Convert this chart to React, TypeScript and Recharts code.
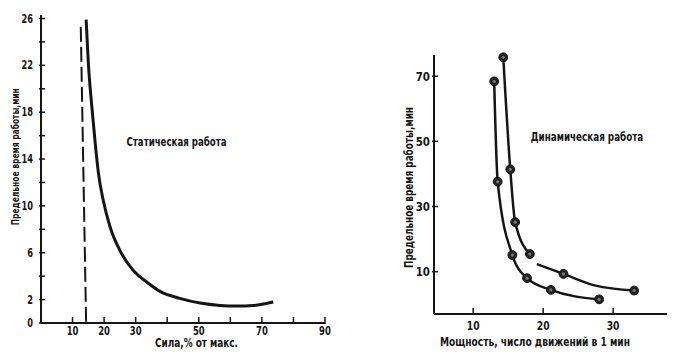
import React from 'react';
import { ComposedChart, Line, XAxis, YAxis, ReferenceLine } from 'recharts';

// ---- Static work (left chart) ----
const staticForce = [14.3, 15.0, 16.1, 17.1, 18.2, 19.7, 21.9, 25.0, 29.2, 33.5, 37.7, 44.0, 50.4, 56.7, 62.0, 67.3, 73.6];
const staticTime = [25.9, 22.2, 18.5, 15.6, 12.8, 10.5, 8.2, 6.2, 4.5, 3.5, 2.7, 2.1, 1.7, 1.5, 1.45, 1.5, 1.8];
const staticXTicks = [10, 20, 30, 40, 50, 60, 70, 80, 90];
const staticXLabels = [10, 20, 30, 50, 70, 90];
const staticYTicks = [0, 2, 4, 6, 8, 10, 12, 14, 16, 18, 20, 22, 24, 26];
const staticYLabels = [0, 2, 6, 10, 14, 18, 22, 26];
const limitLineX = [12.6, 14.3];
const limitLineY = [25.3, 0];

// ---- Dynamic work (right chart) ----
const dynA_x = [13.0, 13.5, 15.6, 17.7, 21.1, 28.0];
const dynA_y = [68.4, 37.6, 15.1, 8.0, 4.4, 1.5];
const dynB_x = [14.3, 15.3, 16.0, 18.1, 22.9, 33.0];
const dynB_y = [75.8, 41.4, 25.2, 15.4, 9.3, 4.2];
const dynB2_x = [19.1, 22.9, 27.5, 33.0];
const dynB2_y = [12.3, 9.3, 5.7, 4.2];
const dynXTicks = [10, 20, 30];
const dynYTicks = [10, 30, 50, 70];

const zip = (xs: number[], ys: number[]) => xs.map((x, i) => ({ x, y: ys[i] }));

const staticData = zip(staticForce, staticTime);
const dynA = zip(dynA_x, dynA_y);
const dynB = zip(dynB_x, dynB_y);
const dynB1 = dynB.slice(0, 4);
const dynB2 = zip(dynB2_x, dynB2_y);

const FONT = '"DejaVu Sans Condensed", "Liberation Sans Narrow", "Arial Narrow", sans-serif';
const INK = '#151515';

const NText = ({ x, y, sx = 0.8, fs, anchor = 'middle', children }: any) => (
  <text
    transform={`translate(${x},${y}) scale(${sx},1)`}
    x={0}
    y={0}
    textAnchor={anchor}
    fontSize={fs}
    fontFamily={FONT}
    fontWeight="bold"
    fill={INK}
  >
    {children}
  </text>
);

const YTick = (props: any) => {
  const { x, y, payload, labels, fs, gap, sx } = props;
  const show = labels.includes(payload.value);
  return (
    <g>
      <line x1={x - 2} x2={x + 4} y1={y} y2={y} stroke={INK} strokeWidth={1.5} />
      {show && (
        <NText x={x - gap} y={y + fs * 0.36} fs={fs} sx={sx} anchor="end">
          {payload.value}
        </NText>
      )}
    </g>
  );
};

const XTick = (props: any) => {
  const { x, y, payload, labels, fs, off, sx } = props;
  const show = labels.includes(payload.value);
  return (
    <g>
      <line x1={x} x2={x} y1={y + 1} y2={y - 6} stroke={INK} strokeWidth={1.5} />
      {show && (
        <NText x={x} y={y + off} fs={fs} sx={sx}>
          {payload.value}
        </NText>
      )}
    </g>
  );
};

const Dot = (props: any) => {
  const { cx, cy } = props;
  if (cx == null || cy == null) return null;
  return (
    <g>
      <circle cx={cx} cy={cy} r={4.4} fill="#222" stroke="#111" strokeWidth={1} />
      <circle cx={cx} cy={cy} r={1.6} fill="#777" />
    </g>
  );
};

const Title = ({ x, y, fs, len, rotate, children }: any) => (
  <text
    x={x}
    y={y}
    fontSize={fs}
    textAnchor="middle"
    dominantBaseline="central"
    textLength={len}
    lengthAdjust="spacingAndGlyphs"
    transform={rotate ? `rotate(-90 ${x} ${y})` : undefined}
    fontFamily={FONT}
    fontWeight="bold"
    fill={INK}
  >
    {children}
  </text>
);

export default function App() {
  return (
    <div style={{ position: 'fixed', left: 0, top: 0, width: 680, height: 359, background: '#fff' }}>
      <div style={{ position: 'absolute', left: 0, top: 0 }}>
        <ComposedChart width={340} height={359} margin={{ top: 15, right: 15, bottom: 0, left: 0 }}>
          <XAxis
            type="number"
            dataKey="x"
            domain={[0, 90]}
            ticks={staticXTicks}
            height={36}
            tickSize={0}
            tickMargin={0}
            axisLine={{ stroke: INK, strokeWidth: 2 }}
            tickLine={false}
            tick={(p: any) => <XTick {...p} labels={staticXLabels} fs={11.5} sx={0.82} off={12} />}
            interval={0}
          />
          <YAxis
            type="number"
            dataKey="y"
            domain={[0, 26.3]}
            ticks={staticYTicks}
            width={41}
            tickSize={0}
            tickMargin={0}
            axisLine={{ stroke: INK, strokeWidth: 2 }}
            tickLine={false}
            tick={(p: any) => <YTick {...p} labels={staticYLabels} fs={11.5} sx={0.8} gap={8} />}
            interval={0}
          />
          <ReferenceLine
            segment={[
              { x: limitLineX[0], y: limitLineY[0] },
              { x: limitLineX[1], y: limitLineY[1] },
            ]}
            stroke={INK}
            strokeWidth={2}
            strokeDasharray="15 5"
            ifOverflow="visible"
          />
          <Line
            data={staticData}
            dataKey="y"
            type="monotone"
            stroke={INK}
            strokeWidth={3}
            dot={false}
            isAnimationActive={false}
          />
        </ComposedChart>
      </div>
      <div style={{ position: 'absolute', left: 340, top: 0 }}>
        <ComposedChart width={340} height={359} margin={{ top: 55, right: 13, bottom: 0, left: 0 }}>
          <XAxis
            type="number"
            dataKey="x"
            domain={[4.4, 37.7]}
            ticks={dynXTicks}
            height={45}
            tickSize={0}
            tickMargin={0}
            axisLine={{ stroke: INK, strokeWidth: 2 }}
            tickLine={false}
            tick={(p: any) => <XTick {...p} labels={dynXTicks} fs={12.5} sx={0.82} off={16} />}
            interval={0}
          />
          <YAxis
            type="number"
            dataKey="y"
            domain={[-3, 76.5]}
            ticks={dynYTicks}
            width={94}
            tickSize={0}
            tickMargin={0}
            axisLine={{ stroke: INK, strokeWidth: 2 }}
            tickLine={false}
            tick={(p: any) => <YTick {...p} labels={dynYTicks} fs={13} sx={0.88} gap={4} />}
            interval={0}
          />
          <Line data={dynA} dataKey="y" type="monotone" stroke={INK} strokeWidth={2.5} dot={false} isAnimationActive={false} />
          <Line data={dynB1} dataKey="y" type="monotone" stroke={INK} strokeWidth={2.5} dot={false} isAnimationActive={false} />
          <Line data={dynB2} dataKey="y" type="monotone" stroke={INK} strokeWidth={2.5} dot={false} isAnimationActive={false} />
          <Line data={dynA} dataKey="y" stroke="none" dot={<Dot />} activeDot={false} isAnimationActive={false} />
          <Line data={dynB} dataKey="y" stroke="none" dot={<Dot />} activeDot={false} isAnimationActive={false} />
        </ComposedChart>
      </div>
      <svg width={680} height={359} style={{ position: 'absolute', left: 0, top: 0, pointerEvents: 'none' }}>
        <Title x={15.5} y={156.7} fs={11} len={137} rotate>Предельное время работы,мин</Title>
        <Title x={196.5} y={343} fs={12} len={83}>Сила,% от макс.</Title>
        <Title x={176.5} y={142} fs={12} len={100}>Статическая работа</Title>
        <Title x={408.7} y={187.5} fs={13} len={161} rotate>Предельное время работы,мин</Title>
        <Title x={535} y={341.5} fs={12} len={190}>Мощность, число движений в 1 мин</Title>
        <Title x={587} y={136.5} fs={13} len={112.5}>Динамическая работа</Title>
      </svg>
    </div>
  );
}
